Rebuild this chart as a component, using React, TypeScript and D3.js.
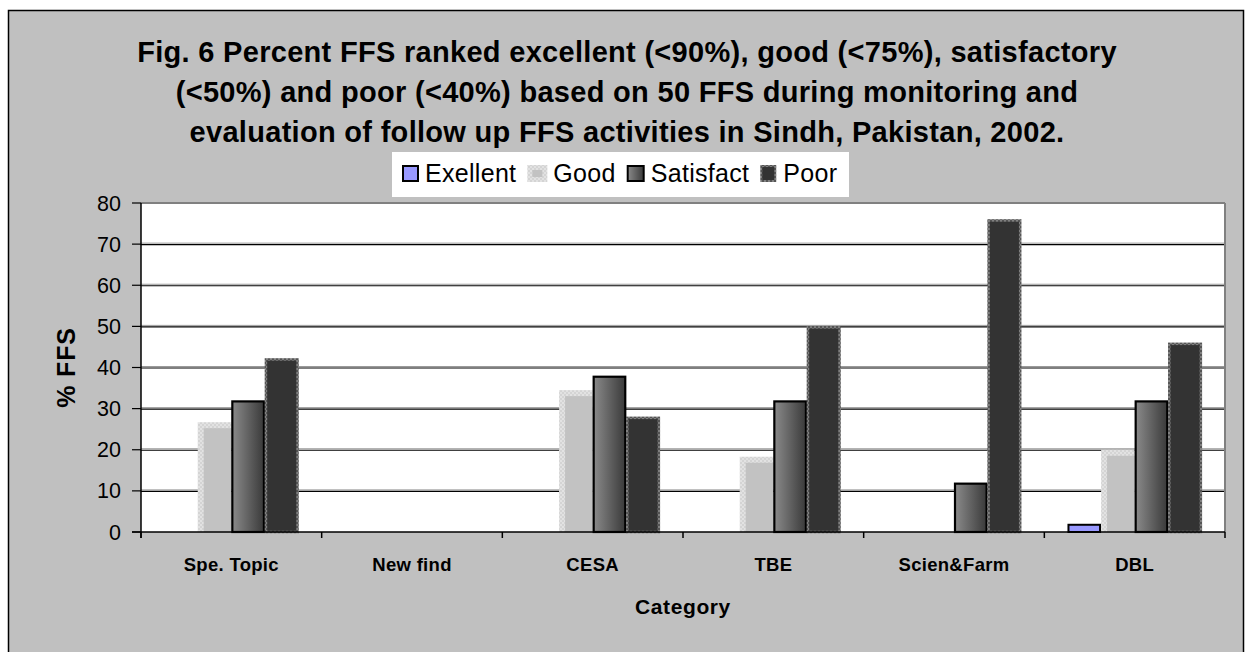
import React, { useEffect, useRef } from "react";
import * as d3 from "d3";

const categories = ["Spe. Topic", "New find", "CESA", "TBE", "Scien&Farm", "DBL"];
const seriesNames = ["Exellent", "Good", "Satisfact", "Poor"];
const excellent = [0, 0, 0, 0, 0, 2];
const good = [26.7, 0, 34.5, 18.3, 0, 20];
const satisfact = [32, 0, 38, 32, 12, 32];
const poor = [42.2, 0, 28, 50, 76, 46];
const yTicks = [0, 10, 20, 30, 40, 50, 60, 70, 80];
const titleLines = [
  "Fig. 6 Percent FFS ranked excellent (<90%), good (<75%), satisfactory",
  "(<50%) and poor (<40%) based on 50 FFS during monitoring and",
  "evaluation of follow up FFS activities in Sindh, Pakistan, 2002.",
];

const W = 1245;
const H = 652;

export default function App() {
  const ref = useRef<SVGSVGElement>(null);
  useEffect(() => {
    const svg = d3.select(ref.current!);
    svg.selectAll("*").remove();
    const font = "'Liberation Sans', Arial, sans-serif";

    const defs = svg.append("defs");
    const grad = defs.append("linearGradient").attr("id", "satGrad").attr("x1", "0").attr("x2", "1").attr("y1", "0").attr("y2", "0");
    grad.append("stop").attr("offset", "0").attr("stop-color", "#8a8a8a");
    grad.append("stop").attr("offset", "1").attr("stop-color", "#3a3a3a");
    const pg = defs.append("pattern").attr("id", "goodEdge").attr("width", 4).attr("height", 4).attr("patternUnits", "userSpaceOnUse");
    pg.append("rect").attr("width", 4).attr("height", 4).attr("fill", "#d4d4d4");
    pg.append("rect").attr("width", 2).attr("height", 2).attr("fill", "#e2e2e2");
    pg.append("rect").attr("x", 2).attr("y", 2).attr("width", 2).attr("height", 2).attr("fill", "#e2e2e2");
    const pp = defs.append("pattern").attr("id", "poorEdge").attr("width", 4).attr("height", 4).attr("patternUnits", "userSpaceOnUse");
    pp.append("rect").attr("width", 4).attr("height", 4).attr("fill", "#555");
    pp.append("rect").attr("width", 2).attr("height", 2).attr("fill", "#808080");
    pp.append("rect").attr("x", 2).attr("y", 2).attr("width", 2).attr("height", 2).attr("fill", "#808080");

    // background
    svg.append("rect").attr("x", 0).attr("y", 0).attr("width", W).attr("height", H).attr("fill", "#ffffff");
    svg.append("rect").attr("x", 8.5).attr("y", 10.5).attr("width", 1235).attr("height", 700)
      .attr("fill", "#c0c0c0").attr("stroke", "#000").attr("stroke-width", 1.5);

    // title
    const tg = svg.append("g");
    titleLines.forEach((t, i) => {
      tg.append("text").attr("x", 627).attr("y", 62 + i * 40).attr("text-anchor", "middle")
        .attr("font-family", font).attr("font-weight", "bold").attr("font-size", 29)
        .attr("letter-spacing", 0.3).attr("fill", "#000").text(t);
    });

    const left = 141, right = 1225, top = 203, bottom = 532;
    const y = d3.scaleLinear().domain([0, 80]).range([bottom, top]);
    const x0 = d3.scaleBand<string>().domain(categories).range([left, right]).paddingInner(0).paddingOuter(0);
    const groupW = 134.4;
    const x1 = d3.scaleBand<string>().domain(seriesNames).range([0, groupW]).padding(0);

    // plot area
    svg.append("rect").attr("x", left).attr("y", top).attr("width", right - left).attr("height", bottom - top).attr("fill", "#fff");

    // gridlines
    yTicks.filter((t) => t > 0 && t < 80).forEach((t) => {
      svg.append("line").attr("x1", left).attr("x2", right).attr("y1", y(t) - 1).attr("y2", y(t) - 1).attr("stroke", "#9a9a9a").attr("stroke-width", 1);
      svg.append("line").attr("x1", left).attr("x2", right).attr("y1", y(t) + 0.5).attr("y2", y(t) + 0.5).attr("stroke", "#000").attr("stroke-width", 1.2);
    });
    // top and right border
    svg.append("line").attr("x1", left).attr("x2", right).attr("y1", top).attr("y2", top).attr("stroke", "#808080").attr("stroke-width", 2);
    svg.append("line").attr("x1", right).attr("x2", right).attr("y1", top).attr("y2", bottom).attr("stroke", "#808080").attr("stroke-width", 2);

    // bars
    const data = categories.map((c, i) => ({ c, vals: [excellent[i], good[i], satisfact[i], poor[i]] }));
    data.forEach((d) => {
      const gx = (x0(d.c) as number) + (x0.bandwidth() - groupW) / 2;
      d.vals.forEach((v, si) => {
        if (v <= 0) return;
        const bx = gx + (x1(seriesNames[si]) as number);
        const bw = x1.bandwidth();
        const by = y(v);
        const bh = bottom - by;
        if (si === 0) {
          svg.append("rect").attr("x", bx + 1).attr("y", by + 1).attr("width", bw - 2).attr("height", bh - 1)
            .attr("fill", "#9999ff").attr("stroke", "#000").attr("stroke-width", 2);
        } else if (si === 1) {
          svg.append("rect").attr("x", bx).attr("y", by).attr("width", bw).attr("height", bh).attr("fill", "url(#goodEdge)");
          svg.append("rect").attr("x", bx + 6).attr("y", by + 6).attr("width", bw - 6).attr("height", bh - 6).attr("fill", "#c2c2c2");
        } else if (si === 2) {
          svg.append("rect").attr("x", bx + 1).attr("y", by + 1).attr("width", bw - 2).attr("height", bh - 1)
            .attr("fill", "url(#satGrad)").attr("stroke", "#000").attr("stroke-width", 2.2);
        } else {
          svg.append("rect").attr("x", bx + 1).attr("y", by + 1).attr("width", bw - 2).attr("height", bh - 1)
            .attr("fill", "#333333").attr("stroke", "url(#poorEdge)").attr("stroke-width", 2.5);
        }
      });
    });

    // axes
    svg.append("line").attr("x1", left).attr("x2", left).attr("y1", top).attr("y2", bottom + 6).attr("stroke", "#000").attr("stroke-width", 1.5);
    svg.append("line").attr("x1", left - 9).attr("x2", right).attr("y1", bottom).attr("y2", bottom).attr("stroke", "#000").attr("stroke-width", 1.5);
    yTicks.forEach((t) => {
      svg.append("line").attr("x1", left - 9).attr("x2", left).attr("y1", y(t)).attr("y2", y(t)).attr("stroke", "#000").attr("stroke-width", 1.2);
      svg.append("text").attr("x", 121).attr("y", y(t) + 7.5).attr("text-anchor", "end").attr("font-family", font)
        .attr("font-size", 21.5).attr("fill", "#000").text(String(t));
    });
    const catTicks = categories.map((c) => x0(c) as number).concat([right]);
    catTicks.forEach((tx) => {
      svg.append("line").attr("x1", tx).attr("x2", tx).attr("y1", bottom).attr("y2", bottom + 6).attr("stroke", "#000").attr("stroke-width", 1.5);
    });
    categories.forEach((c) => {
      svg.append("text").attr("x", (x0(c) as number) + x0.bandwidth() / 2).attr("y", 571).attr("text-anchor", "middle")
        .attr("font-family", font).attr("font-weight", "bold").attr("font-size", 18.5).attr("letter-spacing", 0.3).text(c);
    });
    svg.append("text").attr("x", (left + right) / 2).attr("y", 614).attr("text-anchor", "middle")
      .attr("font-family", font).attr("font-weight", "bold").attr("font-size", 21).attr("letter-spacing", 0.6).text("Category");
    svg.append("text").attr("transform", `translate(75, ${(top + bottom) / 2}) rotate(-90)`).attr("text-anchor", "middle")
      .attr("font-family", font).attr("font-weight", "bold").attr("font-size", 25).attr("letter-spacing", 0.8).text("% FFS");

    // legend
    const lg = svg.append("g");
    lg.append("rect").attr("x", 392).attr("y", 152).attr("width", 457).attr("height", 45).attr("fill", "#fff");
    let lx = 402;
    seriesNames.forEach((s, si) => {
      const sy = 165;
      if (si === 0) {
        lg.append("rect").attr("x", lx + 1).attr("y", sy + 1).attr("width", 15).attr("height", 15).attr("fill", "#9999ff").attr("stroke", "#000").attr("stroke-width", 2);
      } else if (si === 1) {
        lg.append("rect").attr("x", lx).attr("y", sy).attr("width", 20).attr("height", 17).attr("fill", "url(#goodEdge)");
        lg.append("rect").attr("x", lx + 5).attr("y", sy + 5).attr("width", 10).attr("height", 7).attr("fill", "#c2c2c2");
      } else if (si === 2) {
        lg.append("rect").attr("x", lx + 1).attr("y", sy + 1).attr("width", 16).attr("height", 15).attr("fill", "url(#satGrad)").attr("stroke", "#000").attr("stroke-width", 2);
      } else {
        lg.append("rect").attr("x", lx + 1).attr("y", sy + 1).attr("width", 14).attr("height", 15).attr("fill", "#333").attr("stroke", "url(#poorEdge)").attr("stroke-width", 2);
      }
      const swW = si === 1 ? 20 : si === 2 ? 18 : 17;
      const txt = lg.append("text").attr("x", lx + swW + 6).attr("y", 182).attr("font-family", font)
        .attr("font-size", 25).attr("letter-spacing", 0.3).attr("fill", "#000").text(s);
      const tw = (txt.node() as SVGTextElement).getComputedTextLength();
      lx = lx + swW + 6 + tw + 11;
    });
  }, []);
  return (
    <svg ref={ref} width={W} height={H} style={{ position: "absolute", left: 0, top: 0, display: "block" }} />
  );
}
